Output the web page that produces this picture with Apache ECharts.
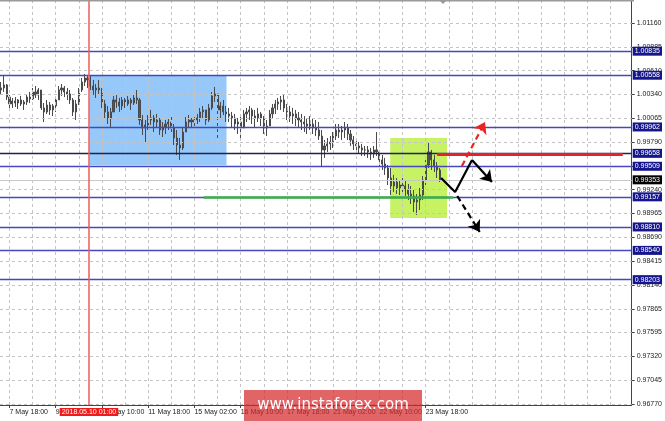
<!DOCTYPE html>
<html><head><meta charset="utf-8">
<script src="https://cdn.jsdelivr.net/npm/echarts@6/dist/echarts.min.js"></script>
<style>html,body{margin:0;padding:0;background:#fff}#c{width:665px;height:421px}</style>
</head><body><div id="c"></div>
<script>
// ---- time axis (trading hours from 7 May 18:00) ----
const timeTicks = [0,32,64,96,128,160,192,224,256,288];
const timeLabels = ['7 May 18:00','9 May 02:00','10 May 10:00','11 May 18:00','15 May 02:00','16 May 10:00','17 May 18:00','21 May 02:00','22 May 10:00','23 May 18:00'];
const gridTimes = [0,16,32,48,64,80,96,112,128,144,160,176,192,208,224,240,256,272,288,304,320,336,352,368,384,400,416];
const xMin = -6.56, xMax = 430.6;
// ---- price axis ----
const priceTickLabels = ['1.01160','1.00885','1.00610','1.00340','1.00065','0.99790','0.99515','0.99240','0.98965','0.98690','0.98415','0.98140','0.97865','0.97595','0.97320','0.97045','0.96770'];
const yMin = 0.96759, yMax = 1.01413;
// ---- H2 bars ----
const firstBarHour = -6;
const firstOpen = 1.00388;
const highs = [1.00480,1.00561,1.00457,1.00330,1.00296,1.00307,1.00284,1.00319,1.00273,1.00342,
1.00365,1.00411,1.00434,1.00411,1.00319,1.00238,1.00273,1.00250,1.00227,1.00296,
1.00434,1.00457,1.00434,1.00411,1.00388,1.00296,1.00273,1.00411,1.00526,1.00572,
1.00549,1.00561,1.00503,1.00457,1.00503,1.00411,1.00273,1.00204,1.00181,1.00319,
1.00330,1.00296,1.00307,1.00296,1.00319,1.00296,1.00342,1.00388,1.00296,1.00100,
1.00042,1.00100,1.00158,1.00100,1.00112,1.00065,1.00019,1.00042,1.00065,1.00100,
0.99996,0.99927,0.99835,0.99950,1.00077,1.00100,1.00065,1.00088,1.00112,1.00181,
1.00204,1.00158,1.00227,1.00365,1.00423,1.00319,1.00250,1.00273,1.00204,1.00181,
1.00135,1.00112,1.00065,1.00088,1.00158,1.00181,1.00204,1.00181,1.00158,1.00181,
1.00135,1.00088,1.00042,1.00158,1.00227,1.00273,1.00296,1.00319,1.00342,1.00227,
1.00204,1.00181,1.00158,1.00135,1.00112,1.00088,1.00065,1.00088,1.00065,1.00042,
1.00019,0.99927,0.99812,0.99835,0.99858,0.99904,0.99996,0.99996,0.99973,1.00019,
0.99996,0.99927,0.99858,0.99812,0.99789,0.99766,0.99743,0.99743,0.99720,0.99743,
0.99904,0.99697,0.99639,0.99605,0.99524,0.99489,0.99409,0.99374,0.99351,0.99374,
0.99351,0.99305,0.99282,0.99236,0.99190,0.99259,0.99397,0.99582,0.99777,0.99697,
0.99639,0.99558,0.99489];
const lows = [1.00330,1.00365,1.00273,1.00158,1.00181,1.00192,1.00169,1.00204,1.00158,1.00215,
1.00238,1.00273,1.00296,1.00273,1.00158,1.00019,1.00112,1.00100,1.00088,1.00135,
1.00273,1.00319,1.00307,1.00273,1.00227,1.00088,1.00042,1.00215,1.00365,1.00434,
1.00411,1.00388,1.00330,1.00296,1.00342,1.00181,1.00065,0.99996,0.99962,1.00135,
1.00181,1.00135,1.00158,1.00181,1.00204,1.00158,1.00215,1.00227,0.99985,0.99870,
0.99777,0.99927,0.99985,0.99904,0.99950,0.99870,0.99846,0.99881,0.99927,0.99881,
0.99754,0.99639,0.99582,0.99697,0.99904,0.99950,0.99950,0.99973,0.99996,1.00019,
1.00065,0.99985,1.00019,1.00158,1.00250,0.99835,1.00065,1.00100,1.00019,1.00019,
0.99950,0.99927,0.99881,0.99835,0.99973,1.00019,1.00042,0.99996,0.99950,1.00019,
0.99973,0.99881,0.99858,0.99973,1.00065,1.00112,1.00158,1.00158,1.00135,1.00042,
1.00019,0.99996,0.99973,0.99950,0.99927,0.99904,0.99881,0.99927,0.99881,0.99858,
0.99812,0.99501,0.99605,0.99674,0.99697,0.99720,0.99812,0.99835,0.99812,0.99835,
0.99812,0.99743,0.99697,0.99674,0.99651,0.99628,0.99628,0.99605,0.99582,0.99605,
0.99628,0.99512,0.99466,0.99409,0.99293,0.99178,0.99213,0.99190,0.99178,0.99213,
0.99167,0.99121,0.99075,0.98982,0.98948,0.99005,0.99121,0.99293,0.99489,0.99466,
0.99443,0.99374,0.99328];
const closes = [1.00411,1.00446,1.00307,1.00227,1.00261,1.00238,1.00273,1.00227,1.00250,1.00307,
1.00284,1.00365,1.00330,1.00388,1.00181,1.00135,1.00215,1.00158,1.00204,1.00273,
1.00388,1.00411,1.00365,1.00342,1.00273,1.00135,1.00227,1.00388,1.00480,1.00526,
1.00503,1.00434,1.00388,1.00411,1.00388,1.00227,1.00135,1.00065,1.00135,1.00273,
1.00250,1.00204,1.00273,1.00227,1.00273,1.00238,1.00296,1.00273,1.00042,0.99950,
0.99985,1.00042,1.00065,1.00019,1.00042,0.99927,0.99962,0.99996,1.00019,0.99950,
0.99835,0.99754,0.99720,0.99904,1.00019,1.00042,1.00019,1.00042,1.00065,1.00135,
1.00158,1.00042,1.00181,1.00319,1.00342,1.00158,1.00204,1.00135,1.00112,1.00088,
1.00065,0.99996,1.00019,0.99950,1.00112,1.00135,1.00158,1.00088,1.00065,1.00112,
1.00065,0.99950,0.99973,1.00112,1.00181,1.00227,1.00250,1.00273,1.00181,1.00135,
1.00088,1.00112,1.00065,1.00042,1.00019,0.99996,0.99973,0.99996,0.99950,0.99927,
0.99858,0.99697,0.99743,0.99766,0.99789,0.99858,0.99927,0.99904,0.99927,0.99950,
0.99881,0.99812,0.99766,0.99743,0.99720,0.99697,0.99697,0.99674,0.99651,0.99697,
0.99674,0.99582,0.99535,0.99489,0.99374,0.99282,0.99328,0.99259,0.99293,0.99282,
0.99236,0.99190,0.99167,0.99098,0.99121,0.99178,0.99351,0.99524,0.99674,0.99582,
0.99512,0.99466,0.99351];
// ---- horizontal levels ----
const levelValues = [1.00835,1.00558,0.99962,0.99658,0.99509,0.99157,0.98810,0.98540,0.98203];
const levelLabels = ['1.00835','1.00558','0.99962','0.99658','0.99509','0.99157','0.98810','0.98540','0.98203'];
const bidValue = 0.99353, bidLabel = '0.99353';
// ---- vertical marker ----
const markerHour = 55, markerLabel = '2018.05.10 01:00';
// ---- zones ----
const blueZone = {t0: 55.3, t1: 150.2, top: 1.00558, bottom: 0.99520};
const greenZone = {t0: 263.5, t1: 302.8, top: 0.99835, bottom: 0.98913};
const greenLine = {t0: 134.3, t1: 307.0, v: 0.99157};
const redLine = {t0: 296.0, t1: 424.4, v: 0.99650};
// ---- forecast paths ----
const pathPoints = [[298.7,0.99374],[308.4,0.99213],[320.1,0.99582]];
const arrowMainUp = [[320.1,0.99582],[333.9,0.99328]];
const arrowRedUp = [[313.1,0.99512],[329.1,1.00019]];
const arrowDown = [[309.9,0.99167],[325.4,0.98752]];

const priceTickValues = priceTickLabels.map(parseFloat);
const barData = closes.map((c, i) => [firstBarHour + 2 * i, i === 0 ? firstOpen : closes[i - 1], c, lows[i], highs[i]]);
const FONT = 'Liberation Sans, Arial, sans-serif';
const NAVY = '#16168c';

const chart = echarts.init(document.getElementById('c'), null, {renderer: 'canvas'});
chart.setOption({
  animation: false,
  grid: {left: 0, right: 32, top: 1, bottom: 16, containLabel: false},
  xAxis: {
    type: 'value', min: xMin, max: xMax,
    splitLine: {show: false},
    axisLine: {show: true, onZero: false, lineStyle: {color: '#444', width: 1}},
    axisTick: {show: true, length: 3, customValues: timeTicks, lineStyle: {color: '#444'}},
    axisLabel: {customValues: timeTicks, align: 'left', margin: 4, fontSize: 7, color: '#222', fontFamily: FONT,
      formatter: v => { const i = timeTicks.findIndex(t => Math.abs(t - v) < 1e-6); return i >= 0 ? timeLabels[i] : ''; }}
  },
  yAxis: {
    type: 'value', position: 'right', min: yMin, max: yMax, scale: true,
    splitLine: {show: false},
    axisLine: {show: true, onZero: false, lineStyle: {color: '#444', width: 1}},
    axisTick: {show: true, length: 3, customValues: priceTickValues, lineStyle: {color: '#444'}},
    axisLabel: {customValues: priceTickValues, margin: 5, fontSize: 7, color: '#222', fontFamily: FONT,
      formatter: v => { const i = priceTickValues.findIndex(t => Math.abs(t - v) < 1e-9); return i >= 0 ? priceTickLabels[i] : ''; }}
  },
  series: [
    { type: 'line', data: [], z: 1, silent: true,
      markArea: { silent: true, data: [
        [{coord: [blueZone.t0, blueZone.top], itemStyle: {color: '#96c8fa', opacity: 1}}, {coord: [blueZone.t1, blueZone.bottom]}],
        [{coord: [greenZone.t0, greenZone.top], itemStyle: {color: '#c6f264', opacity: 1}}, {coord: [greenZone.t1, greenZone.bottom]}]
      ]}
    },
    { type: 'line', data: [], z: 2, silent: true,
      markLine: { silent: true, precision: 6, symbol: ['none', 'none'], label: {show: false},
        lineStyle: {color: '#c4c4c4', type: [3, 3], width: 1},
        data: gridTimes.map(t => ({xAxis: t})).concat(priceTickValues.map(v => ({yAxis: v})))
      }
    },
    { type: 'candlestick', z: 3, data: barData, barWidth: 1.6,
      encode: {x: 0, y: [1, 2, 3, 4]},
      itemStyle: {color: '#555', color0: '#555', borderColor: '#4a4a4a', borderColor0: '#4a4a4a', borderWidth: 1}
    },
    { type: 'line', data: [], z: 4, silent: true,
      markLine: { silent: true, precision: 6, symbol: ['none', 'none'],
        data: levelValues.map((v, i) => ({
          yAxis: v, name: levelLabels[i],
          lineStyle: {color: v === 0.99658 ? '#23234a' : '#4646c0', width: 1.3, type: 'solid'},
          label: {show: true, position: 'end', distance: 1, formatter: '{b}', color: '#fff', backgroundColor: NAVY,
            padding: [1, 2, 1, 2], fontSize: 7, fontFamily: FONT}
        })).concat([
          { yAxis: bidValue, name: bidLabel, lineStyle: {color: '#c8c8c8', width: 1, type: 'solid'},
            label: {show: true, position: 'end', distance: 1, formatter: '{b}', color: '#fff', backgroundColor: '#000',
              padding: [1, 2, 1, 2], fontSize: 7, fontFamily: FONT} },
          [{coord: [markerHour, yMin], name: markerLabel, lineStyle: {color: '#f05a5a', width: 1.5, type: 'solid'},
            label: {show: true, position: 'start', distance: 3, formatter: '{b}', color: '#fff', backgroundColor: '#f01c1c',
              padding: [1, 2, 0, 2], fontSize: 7, fontFamily: FONT}},
           {coord: [markerHour, yMax]}],
          [{coord: [greenLine.t0, greenLine.v], lineStyle: {color: '#3cb043', width: 2.5, type: 'solid'}, label: {show: false}},
           {coord: [greenLine.t1, greenLine.v]}],
          [{coord: [redLine.t0, redLine.v], lineStyle: {color: '#e8202a', width: 3, type: 'solid'}, label: {show: false}},
           {coord: [redLine.t1, redLine.v]}]
        ])
      }
    },
    { type: 'line', z: 5, data: pathPoints, symbol: 'none', silent: true,
      lineStyle: {color: '#000', width: 2.2} },
    { type: 'lines', coordinateSystem: 'cartesian2d', z: 6, silent: true,
      symbol: ['none', 'arrow'], symbolSize: [8, 11],
      data: [
        {coords: arrowMainUp, lineStyle: {color: '#000', width: 2.2, type: 'solid', opacity: 1}},
        {coords: arrowRedUp, lineStyle: {color: '#ee2222', width: 2.2, type: [6, 4], opacity: 1}},
        {coords: arrowDown, lineStyle: {color: '#000', width: 2.2, type: [6, 4], opacity: 1}}
      ]
    }
  ],
  graphic: [
    {type: 'rect', shape: {x: 0, y: 0, width: 634, height: 1.5}, style: {fill: '#9a9a9a'}, z: 10, silent: true},
    {type: 'polygon', shape: {points: [[440, 1], [446, 1], [443, 4]]}, style: {fill: '#999'}, z: 10, silent: true},
    {type: 'rect', shape: {x: 244, y: 390, width: 178, height: 40}, style: {fill: 'rgba(214,40,44,0.72)'}, z: 20, silent: true},
    {type: 'text', x: 333, y: 405, z: 21, silent: true,
      style: {text: 'www.instaforex.com', fill: '#fff', font: '15px "DejaVu Sans"', textAlign: 'center', textVerticalAlign: 'middle'}}
  ]
});
</script></body></html>
